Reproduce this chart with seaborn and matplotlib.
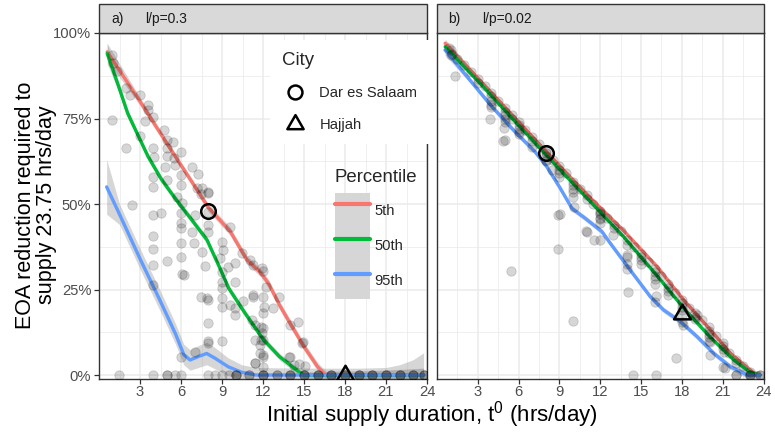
import numpy as np
import pandas as pd
import matplotlib
matplotlib.use("Agg")
import matplotlib.pyplot as plt
import seaborn as sns
from matplotlib.lines import Line2D
from matplotlib.patches import Patch, Rectangle
from matplotlib.path import Path

# ---------------- data ----------------
x_ticks = [3, 6, 9, 12, 15, 18, 21, 24]
y_ticks = [0, 0.25, 0.5, 0.75, 1.0]
y_tick_labels = ["0%", "25%", "50%", "75%", "100%"]
percentiles = ["5th", "50th", "95th"]
pct_colors = ["#F8766D", "#00BA38", "#619CFF"]
panel_tags = ["a)", "b)"]
panel_titles = ["l/p=0.3", "l/p=0.02"]
cities = ["Dar es Salaam", "Hajjah"]

# panel a: scatter
a_pt_x = [0.97, 1.05, 1.3, 0.97, 1.98, 2.27, 3.0, 3.56, 3.6, 3.97, 3.4, 1.98, 3.0, 4.78, 4.95, 5.44,
          3.97, 4.04, 4.95, 6.0, 4.95, 5.5, 4.83, 5.56, 6.78, 7.22, 6.0, 3.97, 4.95, 3.97, 6.0, 7.5,
          8.0, 7.46, 5.68, 2.44, 6.05, 8.0, 7.14,
          3.97, 4.54, 6.0, 6.0, 7.02, 8.0, 8.0, 8.0, 6.78, 6.0, 9.58, 3.97, 3.97, 6.0, 6.97, 7.5,
          6.0, 4.95, 3.97, 7.75, 8.97, 9.1, 8.85, 10.44, 9.95, 9.46, 6.05, 6.24, 8.97, 8.97, 9.95,
          3.97, 8.97, 8.97, 7.46, 8.0, 7.87, 9.58, 8.97, 9.95, 10.56, 11.3, 9.95, 8.0, 11.17, 8.0,
          8.0, 8.97, 7.02, 6.0, 11.85, 11.85, 11.78, 11.4,
          11.05, 11.24, 11.9, 12.02, 11.24, 12.02, 12.2, 13.19, 12.05, 12.75, 11.98, 11.41, 11.98,
          11.9, 11.41, 12.02, 14.58, 13.97, 14.83, 14.95, 11.98, 13.97, 11.41, 12.02, 14.65, 15.07,
          11.78, 12.0, 13.9, 14.3,
          1.46, 3.97, 4.95, 4.95, 5.56, 6.0, 8.0, 8.5, 8.97, 9.5, 11, 11, 13, 13,
          10, 10, 10, 12, 12, 12, 14, 14, 14, 15, 15, 15, 16, 16, 16, 17, 17, 17, 18, 18, 18,
          19, 19, 19, 20, 20, 20, 21, 21, 21, 22, 22, 22, 23, 23, 23, 23.75, 23.75, 23.75]
a_pt_y = [0.936, 0.911, 0.89, 0.746, 0.838, 0.82, 0.82, 0.79, 0.775, 0.753, 0.744, 0.663, 0.70, 0.716,
          0.687, 0.68, 0.663, 0.636, 0.663, 0.653, 0.64, 0.634, 0.609, 0.614, 0.609, 0.588, 0.585,
          0.578, 0.57, 0.549, 0.556, 0.546, 0.533, 0.528, 0.521, 0.497, 0.502, 0.536, 0.546,
          0.468, 0.473, 0.473, 0.445, 0.468, 0.478, 0.439, 0.419, 0.419, 0.429, 0.434, 0.406, 0.368,
          0.385, 0.387, 0.36, 0.346, 0.333, 0.322, 0.319, 0.39, 0.365, 0.341, 0.356, 0.327, 0.317,
          0.295, 0.292, 0.302, 0.273, 0.273, 0.263, 0.253, 0.224, 0.227, 0.219, 0.224, 0.205, 0.198,
          0.195, 0.217, 0.229, 0.175, 0.153, 0.161, 0.094, 0.10, 0.099, 0.068, 0.052, 0.141, 0.102,
          0.063, 0.034,
          0.336, 0.322, 0.312, 0.305, 0.234, 0.227, 0.256, 0.229, 0.2, 0.195, 0.18, 0.146, 0.137,
          0.122, 0.102, 0.102, 0.156, 0.146, 0.094, 0.097, 0.058, 0.054, 0.034, 0.024, 0.032, 0.026,
          0.088, 0.054, 0.054, 0.03,
          0, 0, 0, 0, 0, 0, 0, 0, 0, 0, 0, 0, 0, 0,
          0, 0, 0, 0, 0, 0, 0, 0, 0, 0, 0, 0, 0, 0, 0, 0, 0, 0, 0, 0, 0,
          0, 0, 0, 0, 0, 0, 0, 0, 0, 0, 0, 0, 0, 0, 0, 0, 0, 0]

# panel b: scatter
b_pt_x = [0.85, 1.0, 1.1, 1.0, 1.5, 2.0, 2.5, 3.0, 3.0, 3.5,
          4, 4, 4, 4, 4, 4.5, 5, 5, 5, 5, 5.5, 5.5, 6, 6, 6, 6, 6, 6.5, 7, 7, 7.5,
          8, 8, 8, 8, 8, 8.5, 9, 9, 9, 9, 9.5, 10, 10, 10, 10, 10, 10.5, 11, 11, 11.5,
          12, 12, 12, 12, 12, 12, 12.5, 13, 13, 13.5, 14, 14, 14, 14, 14, 14.5,
          15, 15, 15, 15, 15.5, 16, 16, 16, 16, 16, 16.5, 17, 17, 17, 17, 17.5,
          18, 18, 18, 18, 18, 18, 18.5, 19, 19, 19, 19.5, 20, 20, 20, 20, 20, 20.5,
          21, 21, 21, 21.5, 22, 22, 22, 22, 22.5, 23, 23, 23, 23, 23.75, 23.75,
          1.33, 3.9, 5.0, 4.93, 5.0, 4.88, 6.97, 8.45, 8.93, 8.93, 5.45, 9.99, 10.97, 11.51,
          12.0, 12.94, 13.97, 14.04, 14.41, 16.08, 16.08, 17.55, 20.05, 21.04, 21.2, 9.06,
          10.04, 11.02, 18.06, 19.12, 20.05, 21.08, 16.0]
b_pt_y = [0.955, 0.95, 0.94, 0.935, 0.925, 0.905, 0.885, 0.865, 0.855, 0.845,
          0.825, 0.815, 0.80, 0.79, 0.785, 0.80, 0.78, 0.77, 0.76, 0.75, 0.76, 0.75,
          0.74, 0.73, 0.72, 0.71, 0.705, 0.715, 0.695, 0.685, 0.675,
          0.655, 0.65, 0.64, 0.63, 0.625, 0.63, 0.61, 0.60, 0.59, 0.58, 0.59,
          0.565, 0.555, 0.545, 0.535, 0.52, 0.545, 0.525, 0.515, 0.50,
          0.48, 0.475, 0.47, 0.46, 0.455, 0.445, 0.46, 0.44, 0.43, 0.42,
          0.395, 0.38, 0.35, 0.325, 0.31, 0.375, 0.355, 0.345, 0.335, 0.325, 0.33,
          0.31, 0.30, 0.29, 0.28, 0.265, 0.29, 0.265, 0.255, 0.245, 0.235, 0.24,
          0.22, 0.21, 0.20, 0.19, 0.175, 0.155, 0.195, 0.18, 0.17, 0.165, 0.16,
          0.14, 0.13, 0.12, 0.11, 0.10, 0.115, 0.095, 0.085, 0.075, 0.065,
          0.045, 0.035, 0.0, 0.0, 0.025, 0.0, 0.0, 0.01, 0.0, 0.0, 0.0,
          0.874, 0.748, 0.687, 0.721, 0.739, 0.684, 0.668, 0.599, 0.468, 0.367, 0.305, 0.158,
          0.422, 0.395, 0.395, 0.409, 0.346, 0.242, 0.0, 0.0, 0.231, 0.051, 0.058, 0.024, 0.02,
          0.47, 0.492, 0.419, 0.146, 0.175, 0.097, 0.068, 0.214]

# panel a: smoothed percentile curves (+ standard error half-widths)
a_p5_x = [0.6, 3, 5, 7, 8, 9.6, 10.8, 11.8, 12.4, 13.2, 14, 15, 16, 16.6, 18, 20, 22, 23.75]
a_p5_y = [0.945, 0.80, 0.675, 0.552, 0.49, 0.42, 0.338, 0.30, 0.268, 0.205, 0.15, 0.083, 0.024, 0.0,
          0.0, 0.0, 0.0, 0.0]
a_p5_se = [0.025, 0.012, 0.01, 0.01, 0.012, 0.012, 0.012, 0.012, 0.012, 0.012, 0.012, 0.012, 0.012,
           0.012, 0.012, 0.012, 0.015, 0.02]
a_p50_x = [0.6, 1.4, 2.1, 2.9, 3.6, 4.6, 5.6, 6.8, 7.9, 8.85, 9.5, 10.7, 12.0, 13.2, 14.6, 15.0, 18, 21,
           23.75]
a_p50_y = [0.94, 0.848, 0.765, 0.697, 0.638, 0.57, 0.515, 0.453, 0.395, 0.312, 0.253, 0.18, 0.105,
           0.054, 0.01, 0.0, 0.0, 0.0, 0.0]
a_p50_se = [0.03, 0.015, 0.012, 0.01, 0.01, 0.01, 0.01, 0.01, 0.01, 0.01, 0.01, 0.01, 0.01, 0.01, 0.01,
            0.01, 0.01, 0.015, 0.02]
a_p95_x = [0.56, 1.5, 3, 4.5, 5.6, 6.2, 6.66, 7.27, 7.88, 8.49, 9.46, 10.44, 11.5, 13, 16, 19, 21, 22,
           23, 23.75]
a_p95_y = [0.55, 0.47, 0.34, 0.215, 0.12, 0.06, 0.044, 0.054, 0.063, 0.049, 0.024, 0.008, 0.0, 0.0,
           0.0, 0.0, 0.0, 0.0, 0.0, 0.0]
a_p95_se = [0.08, 0.03, 0.03, 0.03, 0.03, 0.03, 0.03, 0.032, 0.033, 0.031, 0.026, 0.022, 0.022, 0.021,
            0.02, 0.02, 0.022, 0.03, 0.045, 0.065]

# panel b: smoothed percentile curves
b_p5_x = [0.6, 3, 6, 9, 11.27, 13.72, 16.18, 18.14, 20.1, 21.58, 23.3, 23.75]
b_p5_y = [0.97, 0.868, 0.74, 0.612, 0.518, 0.422, 0.317, 0.219, 0.132, 0.063, 0.005, 0.0]
b_p5_se = [0.012, 0.006, 0.006, 0.006, 0.006, 0.006, 0.006, 0.006, 0.006, 0.006, 0.008, 0.01]
b_p50_x = [0.6, 3, 6, 9, 11.27, 13.72, 16.18, 18.14, 20.1, 21.82, 23.05, 23.75]
b_p50_y = [0.96, 0.86, 0.73, 0.602, 0.507, 0.404, 0.29, 0.195, 0.11, 0.044, 0.007, 0.0]
b_p50_se = [0.012, 0.005, 0.005, 0.005, 0.005, 0.005, 0.005, 0.005, 0.005, 0.006, 0.008, 0.01]
b_p95_x = [0.59, 2.3, 4.03, 5.74, 7.2, 8.07, 9.06, 9.92, 10.9, 12.13, 12.74, 14.2, 15.68, 16.66,
           17.9, 19.12, 20.35, 21.58, 22.8, 23.75]
b_p95_y = [0.95, 0.868, 0.785, 0.711, 0.653, 0.609, 0.546, 0.487, 0.458, 0.419, 0.385, 0.307, 0.229,
           0.19, 0.156, 0.112, 0.063, 0.024, 0.0, 0.0]
b_p95_se = [0.015, 0.008, 0.008, 0.008, 0.008, 0.008, 0.008, 0.008, 0.008, 0.008, 0.008, 0.008, 0.008,
            0.008, 0.008, 0.008, 0.008, 0.008, 0.01, 0.012]

# city highlights
city_a_x = [8.0, 18.0]
city_a_y = [0.48, 0.0]
city_b_x = [8.0, 18.0]
city_b_y = [0.65, 0.178]

# ---------------- style ----------------
sns.set_theme(style="white")
plt.rcParams['font.family'] = ['Liberation Sans', 'DejaVu Sans']
plt.rcParams['mathtext.default'] = 'regular'

GRID = "#EBEBEB"
DARK = "#333333"
TICKC = "#4D4D4D"
RIBBON = "#999999"

W, H = 775, 433
fig = plt.figure(figsize=(W / 100, H / 100), dpi=100)
ax_top, ax_bot = 33, 378.5
PH = ax_bot - ax_top
axA = fig.add_axes([99 / W, 1 - ax_bot / H, 328 / W, PH / H])
axB = fig.add_axes([437 / W, 1 - ax_bot / H, 326.5 / W, PH / H])

tri_path = Path([(0, 1), (-0.866, -0.5), (0.866, -0.5), (0, 1)],
                [Path.MOVETO, Path.LINETO, Path.LINETO, Path.CLOSEPOLY])
city_markers = ["o", tri_path]
city_sizes = [10.5, 14]

panels = [
    (axA, a_pt_x, a_pt_y,
     [(a_p5_x, a_p5_y, a_p5_se), (a_p50_x, a_p50_y, a_p50_se), (a_p95_x, a_p95_y, a_p95_se)],
     city_a_x, city_a_y),
    (axB, b_pt_x, b_pt_y,
     [(b_p5_x, b_p5_y, b_p5_se), (b_p50_x, b_p50_y, b_p50_se), (b_p95_x, b_p95_y, b_p95_se)],
     city_b_x, city_b_y),
]

TICK_FS = 10.6
strip_h = 29 / PH
for i, (ax, px, py, curves, cx, cy) in enumerate(panels):
    # ribbons
    for (lx, ly, lse) in curves:
        lx_a = np.array(lx)
        ly_a = np.array(ly)
        se_a = np.array(lse)
        ax.fill_between(lx_a, ly_a - se_a, ly_a + se_a, color=RIBBON, alpha=0.4, lw=0, zorder=2)
    # lines
    frames = []
    for name, (lx, ly, lse) in zip(percentiles, curves):
        frames.append(pd.DataFrame({"x": lx, "y": ly, "Percentile": name}))
    df_lines = pd.concat(frames, ignore_index=True)
    sns.lineplot(data=df_lines, x="x", y="y", hue="Percentile", hue_order=percentiles,
                 palette=pct_colors, estimator=None, sort=False, lw=2.4, legend=False,
                 ax=ax, zorder=3)
    # scatter points
    df_pts = pd.DataFrame({"x": px, "y": py})
    sns.scatterplot(data=df_pts, x="x", y="y", color="black", alpha=0.16, s=46,
                    edgecolor="black", linewidth=0.6, ax=ax, zorder=4, legend=False)
    # city markers
    for j in range(len(cities)):
        ax.plot([cx[j]], [cy[j]], ls="none", marker=city_markers[j], ms=city_sizes[j],
                mfc="none", mec="black", mew=1.8, zorder=6)

    ax.set_xlim(0, 24)
    ax.set_ylim(-0.0102, 1.0)
    ax.set_xticks(x_ticks)
    ax.set_xticks([1.5, 4.5, 7.5, 10.5, 13.5, 16.5, 19.5, 22.5], minor=True)
    ax.set_yticks(y_ticks)
    ax.set_yticks([0.125, 0.375, 0.625, 0.875], minor=True)
    ax.set_axisbelow(True)
    ax.grid(which="major", color=GRID, lw=1.1, zorder=0)
    ax.grid(which="minor", color=GRID, lw=0.55, zorder=0)
    ax.set_xlabel("")
    ax.set_ylabel("")
    for sp in ax.spines.values():
        sp.set_color(DARK)
        sp.set_linewidth(1.0)
    ax.tick_params(axis="x", which="major", direction="out", length=3.5, width=0.9, color=DARK,
                   labelsize=TICK_FS, labelcolor=TICKC, pad=1.5, bottom=True)
    ax.tick_params(which="minor", length=0)
    if i == 0:
        ax.set_yticklabels(y_tick_labels)
        ax.tick_params(axis="y", which="major", direction="out", length=3.5, width=0.9, color=DARK,
                       labelsize=TICK_FS, labelcolor=TICKC, pad=2, left=True)
    else:
        ax.tick_params(axis="y", which="major", length=0, labelleft=False)

    # facet strip
    ax.add_patch(Rectangle((0, 1), 1, strip_h, transform=ax.transAxes, clip_on=False,
                           facecolor="#D9D9D9", edgecolor=DARK, lw=1.0, zorder=10))
    ax.text(0.038 if i == 0 else 0.034, 1 + strip_h / 2, panel_tags[i], transform=ax.transAxes,
            ha="left", va="center", fontsize=10, color="#1A1A1A", zorder=11)
    ax.text(0.14 if i == 0 else 0.137, 1 + strip_h / 2, panel_titles[i], transform=ax.transAxes,
            ha="left", va="center", fontsize=10, color="#1A1A1A", zorder=11)

# legends (panel a)
LEG_FS = 10.6
LEG_TFS = 13.4
city_handles = [Line2D([], [], ls="none", marker=city_markers[j], ms=city_sizes[j] - 0.5,
                       mfc="none", mec="black", mew=1.8) for j in range(len(cities))]
leg1 = axA.legend(city_handles, cities, title="City", loc="upper left",
                  bbox_to_anchor=((270 - 99) / 328, 1 - (40 - ax_top) / PH),
                  frameon=True, facecolor="white", edgecolor="none", framealpha=1, fancybox=False,
                  fontsize=LEG_FS, title_fontsize=LEG_TFS, alignment="left", borderpad=0.8,
                  handlelength=1.8, handletextpad=0.75, labelspacing=1.2, borderaxespad=0)
leg1.set_zorder(20)
axA.add_artist(leg1)

pct_handles = [(Patch(facecolor="#D6D6D6", edgecolor="none"),
                Line2D([], [], color=pct_colors[k], lw=3)) for k in range(len(percentiles))]
leg2 = axA.legend(pct_handles, percentiles, title="Percentile", loc="upper left",
                  bbox_to_anchor=((335 - 99) / 328, 1 - (169 - ax_top) / PH),
                  frameon=False, fontsize=LEG_FS, title_fontsize=LEG_TFS, alignment="left",
                  borderpad=0, handlelength=2.35, handleheight=3.3, handletextpad=0.3,
                  labelspacing=0, borderaxespad=0)
leg2._legend_box.sep = 5
leg2.set_zorder(20)

# axis titles
fig.text(432 / W, 1 - 415 / H, r"Initial supply duration, t$^0$ (hrs/day)", ha="center",
         va="center", fontsize=16, color="black")
fig.text(36.5 / W, 1 - 205 / H, "EOA reduction required to\nsupply 23.75 hrs/day", ha="center",
         va="center", rotation=90, fontsize=15.5, color="black", linespacing=1.0,
         multialignment="center")

fig.savefig("out.png", dpi=100)
